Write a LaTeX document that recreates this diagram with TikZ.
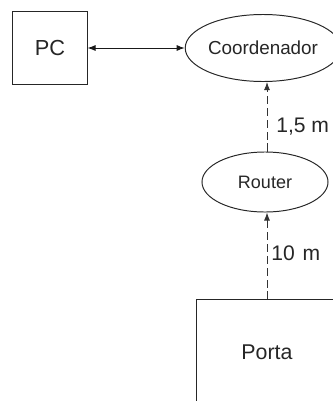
\documentclass[tikz,border=0pt]{standalone}
\usepackage{fontspec}
\setmainfont{Liberation Sans}
\usetikzlibrary{arrows.meta,shapes.geometric,positioning}
\tikzset{
  bx/.style={rectangle,draw=black!85,line width=.7pt,inner sep=0pt},
  el/.style={ellipse,draw=black!85,line width=.7pt,inner sep=0pt},
  lnk/.style={{Latex[length=2mm,width=1.5mm]}-{Latex[length=2mm,width=1.5mm]},line width=.7pt,draw=black!90},
  dsh/.style={-{Latex[length=2mm,width=1.5mm]},line width=.7pt,draw=black!80,dash pattern=on 5.7pt off 2.8pt},
  lb/.style={font=\fontsize{15}{18}\selectfont,anchor=west,inner sep=0pt,text=black!85},
}

\begin{document}
\begin{tikzpicture}[x=0.025cm,y=-0.025cm]
\useasboundingbox (0,0) rectangle (333,401);
\clip (0,0) rectangle (333,401);
% devices
\node[bx,minimum width=1.85cm,minimum height=1.8cm,font=\fontsize{15.5}{18}\selectfont,text=black!85] (PC) at (50,48) {PC};
\node[el,minimum width=3.2cm,minimum height=1.675cm,font=\fontsize{13.4}{16}\selectfont,text=black!85] (Coord) at (263,48) {Coordenador};
\node[el,minimum width=3.15cm,minimum height=1.5cm,font=\fontsize{12.8}{15}\selectfont,text=black!85] (Router) at (265,182) {Router};
% the door box runs past the page edge
\node[bx,minimum width=3.5cm,minimum height=2.6cm,font=\fontsize{15.2}{18}\selectfont,text=black!85] (Porta) at (267,352) {Porta};
% links
\draw[lnk] (PC.east) -- (Coord.west);
\draw[dsh] (Router.north -| 267,0) -- (Coord.south -| 267,0);
\draw[dsh] (Porta.north) -- (Porta.north |- Router.south);
% distances
\node[lb] (d1) at (276,127) {1,5 m};
\node[lb] (d2) at (271,253) {10\kern1.5pt\ m};
\end{tikzpicture}
\end{document}
